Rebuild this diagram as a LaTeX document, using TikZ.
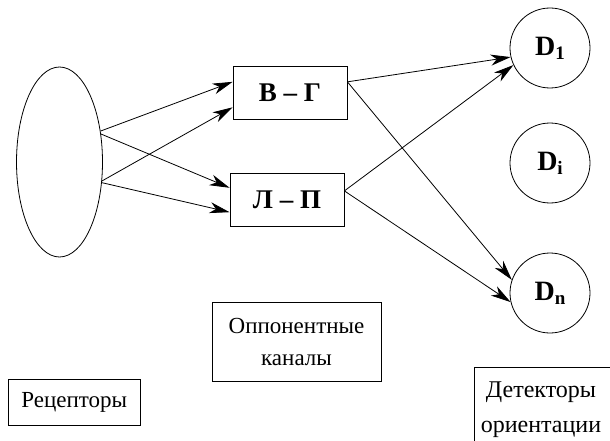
\documentclass[tikz,border=0pt]{standalone}
\usepackage{fontspec}
\setmainfont{Liberation Serif}
\newfontfamily\tnr{Liberation Serif}
\usetikzlibrary{arrows.meta,shapes.geometric}
\newcommand{\dsub}[1]{\raisebox{-4pt}{\fontsize{19}{19}\selectfont #1}}

\begin{document}
\begin{tikzpicture}[x=1pt,y=-1pt,line width=.8pt,
  every node/.style={font=\tnr},
  arr/.style={-{Stealth[length=20pt,width=11pt,inset=6pt]}},
  chan/.style={draw,minimum width=114pt,minimum height=53pt,inner sep=0pt,
    font=\tnr\fontsize{27}{27}\selectfont\bfseries},
  det/.style={draw,circle,minimum size=80pt,inner sep=0pt,
    font=\tnr\fontsize{28}{28}\selectfont\bfseries},
  lbl/.style={draw,inner sep=0pt,align=center,font=\tnr\fontsize{23}{32}\selectfont}]
\useasboundingbox (0,0) rectangle (610,441);
\clip (0,0) rectangle (610,441);
% receptors and opponent channels
\node[draw,ellipse,minimum width=86pt,minimum height=190pt,inner sep=0pt] (rec) at (59.5,162) {};
\node[chan] (vg) at (290,93) {В – Г};
\node[chan] (lp) at (287,200) {Л – П};
% orientation detectors
\node[det] (d1) at (550,48) {D\dsub{1}};
\node[det] (di) at (550,163) {D\dsub{i}};
\node[det] (dn) at (550,293) {D\dsub{n}};
\draw[arr] (rec.37) -- (vg.169);
\draw[arr] (rec.-24) -- (vg.194);
\draw[arr] (rec.34) -- (lp.168);
\draw[arr] (rec.-26) -- (lp.192);
\draw[arr] (vg.11) -- (d1.193);
\draw[arr] (vg.11) -- (dn.161);
\draw[arr] (lp.9) -- (d1.205);
\draw[arr] (lp.9) -- (dn.193);
% captions
\node[lbl,minimum width=169pt,minimum height=79pt] (opp) at (296.5,341.5) {Оппонентные\\каналы};
\node[lbl,minimum width=131.5pt,minimum height=46pt] (rcp) at (74.3,402) {Рецепторы};
\node[lbl,anchor=north west,minimum width=170pt,minimum height=100pt] (dtcbox) at (474,367) {};
\node[align=center,font=\tnr\fontsize{24}{35}\selectfont] (dtc) at (541,410) {Детекторы\\ориентации};
\end{tikzpicture}
\end{document}
